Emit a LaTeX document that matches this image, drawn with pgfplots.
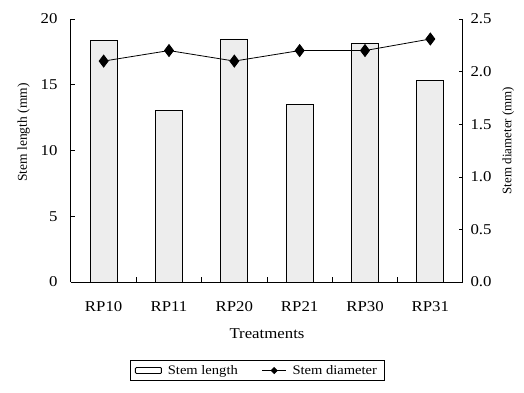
\documentclass[border=0pt]{standalone}
\usepackage{pgfplots}
\pgfplotsset{compat=1.18}
\usepackage{fontspec}
\setmainfont[FakeStretch=1.12]{Liberation Serif}
\newfontfamily\plainserif{Liberation Serif}
\begin{document}
\begin{tikzpicture}
\path[use as bounding box] (-71pt,-110pt) rectangle (453pt,282pt);
\begin{axis}[
  at={(0pt,0pt)}, anchor=south west,
  scale only axis, width=392pt, height=263pt,
  xmin=-0.5, xmax=5.5, ymin=0, ymax=20,
  axis y line*=left, axis x line*=bottom,
  xtick={0,...,5}, xticklabels={RP10,RP11,RP20,RP21,RP30,RP31},
  minor xtick={0.5,1.5,2.5,3.5,4.5},
  major x tick style={draw=none},
  minor tick length=5pt,
  ytick={0,5,10,15,20},
  tick align=inside, tick style={black, line width=0.6pt},
  major tick length=4pt,
  axis line style={line width=1pt},
  ticklabel style={font=\fontsize{15}{16}\selectfont},
  /pgf/number format/assume math mode=true,
  xticklabel style={yshift=-16pt},
  yticklabel style={xshift=-10pt},
  xlabel={Treatments}, xlabel style={font=\fontsize{15}{16}\selectfont, yshift=-10pt},
  ylabel={Stem length (mm)},
  every axis y label/.append style={font=\plainserif\fontsize{13.5}{15}\selectfont},
  ylabel style={yshift=4pt, xshift=18pt},
  clip=false,
]
\addplot[ybar, bar width=27pt, draw=black, line width=0.9pt, fill=black!7]
  coordinates {(0,18.38) (1,13.03) (2,18.48) (3,13.5) (4,18.15) (5,15.34)};
\end{axis}
\begin{axis}[
  at={(0pt,0pt)}, anchor=south west,
  scale only axis, width=392pt, height=263pt,
  xmin=-0.5, xmax=5.5, ymin=0, ymax=2.5,
  axis y line*=right, axis x line=none,
  ytick={0,0.5,1,1.5,2,2.5},
  tick align=inside, tick style={black, line width=0.6pt},
  major tick length=4pt,
  axis line style={line width=1pt},
  ticklabel style={font=\fontsize{15}{16}\selectfont},
  /pgf/number format/assume math mode=true,
  /pgf/number format/.cd, fixed, fixed zerofill, precision=1, /pgfplots/.cd,
  yticklabel style={xshift=4pt},
  ylabel={Stem diameter (mm)},
  every axis y label/.append style={font=\plainserif\fontsize{13}{15}\selectfont},
  ylabel style={yshift=-4pt, xshift=10pt},
  legend style={at={(0.4745,-0.296)}, anchor=north, legend columns=2,
    draw=black, line width=0.8pt, font=\fontsize{13}{15}\selectfont,
    /tikz/every even column/.append style={column sep=22pt},
    /tikz/every odd column/.append style={column sep=4pt},
    inner xsep=5pt, inner ysep=3pt},
  legend cell align=left,
  clip=false,
]
\addlegendimage{legend image code/.code={\draw[black, line width=0.9pt, fill=white, rounded corners=1pt] (0pt,-3pt) rectangle (26pt,3pt);}}
\addlegendentry{Stem length}
\addplot[black, line width=0.8pt, mark=diamond*, mark size=6pt, mark options={fill=black},
  legend image code/.code={\draw[black, line width=0.7pt] (0pt,0pt) -- (24pt,0pt); \fill[black] (12pt,3pt) -- (15pt,0pt) -- (12pt,-3pt) -- (9pt,0pt) -- cycle;}]
  coordinates {(0,2.1) (1,2.2) (2,2.1) (3,2.2) (4,2.2) (5,2.31)};
\addlegendentry{Stem diameter}
\end{axis}
\end{tikzpicture}
\end{document}
